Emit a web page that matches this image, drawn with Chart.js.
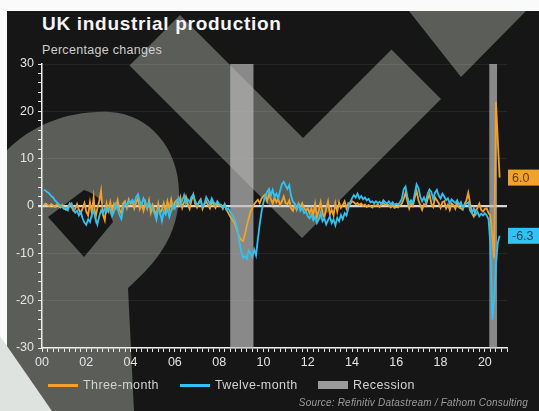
<!DOCTYPE html>
<html>
<head>
<meta charset="utf-8">
<script src="https://cdn.jsdelivr.net/npm/chart.js@4.4.0/dist/chart.umd.min.js"></script>
<style>
  body { margin: 0; background: #fafafa; }
  #wrap { position: relative; width: 539px; height: 411px; overflow: hidden; font-family: "Liberation Sans", Arial, sans-serif; }
  #bg { position: absolute; left: 0; top: 0; }
  #chart { position: absolute; left: 0; top: 0; }
  #title { position: absolute; left: 42px; top: 14px; font-size: 19px; line-height: 1; font-weight: bold; color: #f4f4f4; letter-spacing: 0.7px; }
  #sub { position: absolute; left: 42px; top: 44px; font-size: 12.5px; line-height: 1; color: #cfcfcf; letter-spacing: 0.3px; }
  #legend { position: absolute; left: 0; top: 378px; height: 15px; width: 539px; font-size: 12.5px; color: #d2d2d2; letter-spacing: 0.4px; }
  #legend span { position: absolute; top: 0; line-height: 15px; }
  #legend i { position: absolute; display: block; }
  #source { position: absolute; right: 11px; top: 398px; font-size: 10px; font-style: italic; color: #9c9c9c; line-height: 1; letter-spacing: 0.2px; }
</style>
</head>
<body>
<div id="wrap">
  <svg id="bg" width="539" height="411" viewBox="0 0 539 411">
    <defs><clipPath id="panel"><rect x="7" y="11" width="532" height="400"/></clipPath></defs>
    <rect x="0" y="0" width="539" height="411" fill="#fafafa"/>
    <rect x="7" y="11" width="532" height="400" fill="#161616"/>
    <g clip-path="url(#panel)" fill="#5b5d58">
      <polygon points="129.5,65.5 180,15 303,138 391.5,49.5 441,99 302,238"/>
      <polygon points="409,11 461,77 526,11"/>
      <path d="M0,158 C25,128 65,110 110,112 C150,114 180,150 179,195 C178,240 152,266 128,288 L134,411 L52,411 L0,340 Z"/>
      <path fill="#161616" d="M48,217 L84,190 Q104,196 113,222 L84,257 Z"/>
    </g>
    <polygon points="0,336 52,411 0,411" fill="#dfe3df"/>
  </svg>
  <div id="title">UK industrial production</div>
  <div id="sub">Percentage changes</div>
  <canvas id="chart" width="539" height="411"></canvas>
  <div id="legend"></div>
  <div id="source">Source: Refinitiv Datastream / Fathom Consulting</div>
</div>
<script>
// monthly series, Jan 2000 - Aug 2020 (% change)
const startYear = 2000;

const threeMonth = [
  0.3, 0.5, 0.2, 0.0, 0.4, 0.1, -0.2, 0.3, 0.0, -0.3, 0.2, -0.5,
  -0.8, -0.3, 0.5, -0.2, -1.0, -0.6, 0.4, -0.8, -1.5, -0.5, 0.6, -1.2,
  -2.0, 0.8, -1.5, 1.8, -2.5, -0.5, 1.0, 3.2, -1.8, -3.0, 0.5, -1.0,
  0.8, -1.2, 0.4, -0.5, 1.2, -0.8, -1.6, 0.6, 1.0, -0.4, 1.4, 0.5,
  1.0, -0.5, 0.8, 1.6, -0.6, 0.4, -1.0, 0.8, -0.5, 1.2, -1.4, 0.2,
  -1.0, -2.0, 0.5, -1.5, -0.8, 0.6, -1.2, 1.0, -0.6, 1.4, -0.4, 0.8,
  1.2, 0.2, 1.8, -0.4, 0.8, 2.0, 0.4, -0.6, 1.2, 2.4, 0.5, -0.3,
  0.8, 1.4, -0.6, 0.4, 1.0, 0.2, -0.5, 0.9, 0.3, -0.4, 0.6, 0.0,
  0.2, -0.6, 0.4, -0.8, -1.5, -2.2, -2.8, -3.4, -4.2, -5.5, -6.6, -7.2,
  -7.4, -6.0, -4.2, -2.6, -1.2, -0.4, 0.4, 0.9, 1.3, 0.6, 1.6, 2.1,
  2.4, 1.0, 2.6, 1.5, 0.5, 1.8, 0.8, 1.5, 0.2, 1.0, 2.0, 0.6,
  0.4, 1.2, -0.5, -1.0, 0.3, -0.8, 0.5, -0.2, 0.6, -0.4, -1.0, -0.5,
  -1.5, -0.5, -2.0, 0.4, -2.4, -1.0, 0.8, -1.5, -2.5, -0.5, 1.0, -1.8,
  -0.8, -2.0, 0.6, -1.2, 0.8, -0.4, 0.2, 1.0, -0.5, 0.6, 0.4, 1.0,
  0.8, 0.4, 0.6, 0.2, 0.5, 0.0, 0.3, -0.2, 0.2, 0.0, -0.3, 0.2,
  0.0, 0.3, -0.2, 0.4, 0.6, 0.2, 0.4, 0.1, -0.3, 0.2, -0.4, -0.2,
  -0.3, 0.2, 0.5, 1.5, 2.8, 1.0, -0.5, 0.6, 0.0, 1.8, 3.2, 1.2,
  0.2, -0.8, 0.4, 0.0, 1.5, 2.5, 0.5, -0.2, 1.8, 1.2, 0.6, -0.4,
  0.8, 1.0, -0.5, 0.3, -0.8, 0.5, 0.2, -0.6, 0.8, -0.3, -0.5, -0.8,
  0.4, 1.2, 2.8, 0.5, -1.5, -2.2, -1.0, -0.4, 0.5, -0.8, -1.2, -0.6,
  -0.5, -1.5, -2.0, -6.0, -11.0, 22.0, 14.0, 6.0
];

const twelveMonth = [
  3.5, 3.2, 2.9, 2.6, 2.1, 1.8, 1.2, 0.8, 0.4, 0.1, -0.3, -0.6,
  -0.4, -0.9, 0.3, 0.6, -0.5, -1.4, -1.0, -2.0, -1.3, -2.6, -3.5, -4.0,
  -2.8, -3.4, -1.8, -1.0, -2.6, -3.9, -2.2, -0.9, -1.6, -0.5, -1.3, -0.4,
  -0.8, -2.1, -1.2, 0.4, -0.6, -1.9, -2.7, -0.6, 0.6, 0.2, 1.1, 0.8,
  1.3, 0.5, 1.9, 2.5, 1.0, 0.3, 1.6, 0.7, -0.4, 0.8, 0.2, -0.8,
  -1.6, -2.9, -0.6, -1.3, -3.2, -1.1, -1.8, -0.6, -2.3, -1.0, 0.2, -0.5,
  0.8, 1.7, 0.2, 1.1, 2.3, 0.5, 1.4, 0.8, 1.9, 2.4, 1.0, 0.3,
  0.6, 1.2, -0.2, 0.5, 1.9, 1.2, 0.4, 1.6, 0.8, 0.3, 1.0, 0.4,
  0.2, -0.4, 0.3, -0.8, -0.5, -1.3, -1.8, -2.5, -3.6, -5.2, -7.6, -9.6,
  -11.0, -10.6, -11.2, -9.4, -10.1, -10.8, -9.2, -10.4, -7.0, -3.8, -1.2, 0.8,
  2.0, 3.0, 3.6, 2.2, 3.4, 2.0, 2.6, 1.6, 3.2, 4.6, 5.1, 4.3,
  3.6, 4.4, 2.1, 0.9, 0.5, -0.6, 0.4, -1.0, -0.4, -1.5, -1.2, -2.1,
  -2.6, -1.8, -3.0, -2.3, -3.6, -2.8, -1.5, -3.2, -2.6, -3.9, -3.0, -2.2,
  -3.6, -2.8, -4.1, -2.5, -3.2, -1.9, -2.8, -1.5, -2.0, -0.5, 0.8, 1.6,
  2.3, 1.8, 2.6, 1.6, 2.1, 1.4, 1.8, 1.2, 1.5, 0.8, 1.0, 0.6,
  1.0, 0.6, 0.9, 0.4, 1.2, 0.8, 0.5, 1.0, 0.3, 0.8, 0.2, 0.5,
  0.3, 0.8, 1.5, 3.5, 4.1, 2.0, 0.5, 1.2, 0.6, 2.6, 4.6, 3.8,
  2.0, 1.0, 1.8, 0.8, 2.6, 3.5, 3.0, 1.5, 2.8, 3.4, 2.2, 1.6,
  2.6, 2.0, 1.2, 1.6, 0.5, 1.4, 1.0, 0.6, 1.2, 0.2, 0.8, -0.5,
  0.2, 0.5, 0.8, -1.0, -1.5, -0.5, -1.8, -1.2, -2.2, -1.6, -2.0, -1.5,
  -2.0, -2.8, -8.2, -24.0, -20.0, -12.5, -7.8, -6.3
];

// recession periods (decimal years)
const recessionStart = [2008.5, 2020.2];
const recessionEnd = [2009.55, 2020.55];

const seriesNames = ["Three-month", "Twelve-month", "Recession"];
const seriesColors = ["#f2a22a", "#2fc2f2", "#9b9b9b"];
const labelText = ["#6b4000", "#12465e"];

// month-end dates
const toPoints = arr => arr.map((v, i) => ({ x: startYear + (i + 1) / 12, y: v }));

const recessionPlugin = {
  id: "recession",
  beforeDatasetsDraw(chart) {
    const { ctx, chartArea, scales } = chart;
    ctx.save();
    ctx.fillStyle = "rgba(192,192,192,0.68)";
    recessionStart.forEach((s, i) => {
      const x0 = scales.x.getPixelForValue(s);
      const x1 = scales.x.getPixelForValue(recessionEnd[i]);
      ctx.fillRect(x0, chartArea.top, x1 - x0, chartArea.bottom - chartArea.top);
    });
    ctx.restore();
  }
};

// value boxes on the right for the latest readings
const lastValuePlugin = {
  id: "lastValue",
  afterDatasetsDraw(chart) {
    const { ctx, chartArea, scales } = chart;
    ctx.save();
    ctx.font = "12.5px 'Liberation Sans', Arial, sans-serif";
    ctx.textBaseline = "middle";
    chart.data.datasets.forEach((ds, i) => {
      const last = ds.data[ds.data.length - 1].y;
      const y = scales.y.getPixelForValue(last);
      ctx.fillStyle = seriesColors[i];
      ctx.fillRect(chartArea.right + 1, y - 8, 40, 16);
      ctx.fillStyle = labelText[i];
      ctx.fillText(last.toFixed(1), chartArea.right + 5, y + 0.5);
    });
    ctx.restore();
  }
};

new Chart(document.getElementById("chart"), {
  type: "line",
  data: {
    datasets: [
      { label: seriesNames[0], data: toPoints(threeMonth), borderColor: seriesColors[0], borderWidth: 1.8, pointRadius: 0, tension: 0, order: 1 },
      { label: seriesNames[1], data: toPoints(twelveMonth), borderColor: seriesColors[1], borderWidth: 1.8, pointRadius: 0, tension: 0, order: 0 }
    ]
  },
  options: {
    responsive: false,
    animation: false,
    devicePixelRatio: 1,
    layout: { padding: { top: 64, right: 32, bottom: 39, left: 0 } },
    plugins: { legend: { display: false }, tooltip: { enabled: false } },
    scales: {
      x: {
        type: "linear",
        min: 2000,
        max: 2021,
        afterFit: s => { s.height = 24; },
        border: { color: "#eeeeee", width: 1.5 },
        grid: { drawOnChartArea: false, tickLength: 4, tickColor: "#e6e6e6" },
        ticks: {
          stepSize: 0.25,
          autoSkip: false,
          maxRotation: 0,
          padding: 3,
          color: "#e4e4e4",
          font: { family: "'Liberation Sans', Arial, sans-serif", size: 12.5 },
          callback: v => (Number.isInteger(v) && v % 2 === 0 && v <= 2020) ? String(v - 2000).padStart(2, "0") : ""
        }
      },
      y: {
        min: -30,
        max: 30,
        afterFit: s => { s.width = 42; },
        border: { color: "#eeeeee", width: 1.5 },
        grid: {
          tickLength: 4,
          tickColor: "#e6e6e6",
          color: c => c.tick.value === 0 ? "#d6d6d6" : (c.tick.value % 10 === 0 ? "rgba(255,255,255,0.07)" : "rgba(0,0,0,0)"),
          lineWidth: c => c.tick.value === 0 ? 2.2 : 1
        },
        ticks: {
          stepSize: 2,
          autoSkip: false,
          padding: 4,
          color: "#e4e4e4",
          font: { family: "'Liberation Sans', Arial, sans-serif", size: 12.5 },
          callback: v => v % 10 === 0 ? String(v) : ""
        }
      }
    }
  },
  plugins: [recessionPlugin, lastValuePlugin]
});

// legend below the chart
const legend = document.getElementById("legend");
const legendX = [48, 180, 318];
seriesNames.forEach((name, i) => {
  const mark = document.createElement("i");
  mark.style.left = legendX[i] + "px";
  mark.style.width = "30px";
  if (i < 2) {
    mark.style.top = "6px";
    mark.style.height = "3px";
  } else {
    mark.style.top = "3px";
    mark.style.height = "8px";
  }
  mark.style.background = seriesColors[i];
  legend.appendChild(mark);
  const txt = document.createElement("span");
  txt.style.left = (legendX[i] + 35) + "px";
  txt.textContent = name;
  legend.appendChild(txt);
});
</script>
</body>
</html>
